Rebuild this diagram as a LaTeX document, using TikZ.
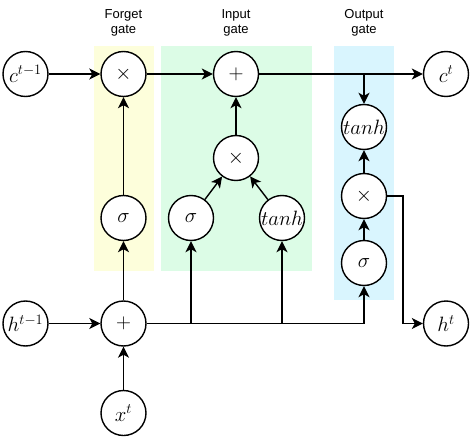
\documentclass[tikz,border=0pt]{standalone}
\usepackage{fontspec}
\setsansfont{Liberation Sans}
\usetikzlibrary{arrows.meta}
\definecolor{yfill}{HTML}{FDFEDB}
\definecolor{gfill}{HTML}{DCFCE6}
\definecolor{bfill}{HTML}{D9F5FE}
\begin{document}
\begin{tikzpicture}[x=1pt,y=-1pt,
 circ/.style={circle,draw,line width=1.4pt,minimum size=45pt,inner sep=0pt,fill=white,font=\fontsize{21}{24}\selectfont},
 arr/.style={line width=1.4pt,-{Stealth[length=11pt,width=11pt,inset=3pt]}},
 ln/.style={line width=1.4pt},
 lab/.style={font=\sffamily\fontsize{13}{15.5}\selectfont,align=center}]
\useasboundingbox (0,0) rectangle (470,446);
\fill[yfill] (94,46) rectangle (154,271);
\fill[gfill] (161,46) rectangle (312,271);
\fill[bfill] (334,46) rectangle (394,300);
\node[lab] (lf) at (123.5,23) {Forget\\gate};
\node[lab] (li) at (236,23) {Input\\gate};
\node[lab] (lo) at (364,23) {Output\\gate};
% nodes
\node[circ] (cprev) at (25.5,74) {$c^{t-1}$};
\node[circ] (fmul) at (123.5,74) {$\times$};
\node[circ] (iadd) at (236,74) {$+$};
\node[circ] (cnext) at (446,74) {$c^{t}$};
\node[circ] (otanh) at (364,127) {$tanh$};
\node[circ] (imul) at (236,158) {$\times$};
\node[circ] (omul) at (364,196) {$\times$};
\node[circ] (fsig) at (123.5,218) {$\sigma$};
\node[circ] (isig) at (191,218) {$\sigma$};
\node[circ] (itanh) at (282,218) {$tanh$};
\node[circ] (osig) at (364,263) {$\sigma$};
\node[circ] (hprev) at (25.5,323.5) {$h^{t-1}$};
\node[circ] (hadd) at (123.5,323.5) {$+$};
\node[circ] (hnext) at (446,323.5) {$h^{t}$};
\node[circ] (xin) at (123.5,413) {$x^{t}$};
\coordinate (jc) at (364,74);
\coordinate (jb1) at (191,323.5);
\coordinate (jb2) at (282,323.5);
\coordinate (jb3) at (364,323.5);
\coordinate (jo1) at (403,196);
\coordinate (jo2) at (403,323.5);
% connectors
\draw[arr] (cprev) -- (fmul);
\draw[arr] (fmul) -- (iadd);
\draw[arr] (iadd) -- (cnext);
\draw[arr] (jc) -- (otanh);
\draw[arr] (fsig) -- (fmul);
\draw[arr] (hadd) -- (fsig);
\draw[arr] (isig) -- (imul);
\draw[arr] (itanh) -- (imul);
\draw[arr] (imul) -- (iadd);
\draw[arr] (hprev) -- (hadd);
\draw[arr] (xin) -- (hadd);
\draw[ln] (hadd) -- (jb3);
\draw[arr] (jb1) -- (isig);
\draw[arr] (jb2) -- (itanh);
\draw[arr] (jb3) -- (osig);
\draw[arr] (osig) -- (omul);
\draw[arr] (omul) -- (otanh);
\draw[arr] (omul.east) -- (jo1) -- (jo2) -- (hnext);
\end{tikzpicture}
\end{document}
